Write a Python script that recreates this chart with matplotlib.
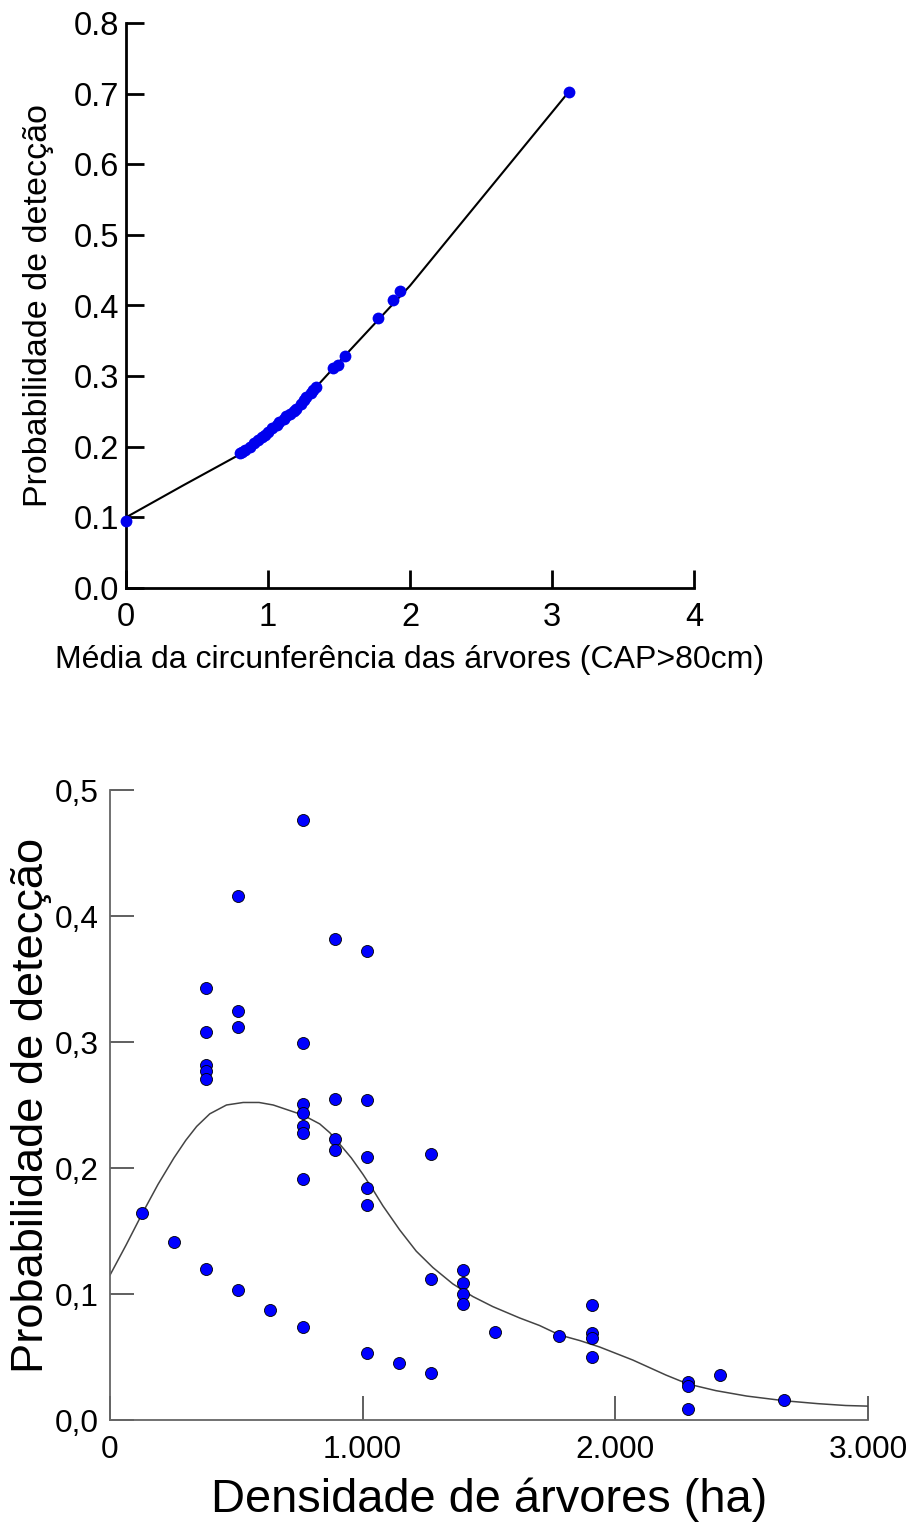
import matplotlib
matplotlib.use("Agg")
import matplotlib.pyplot as plt
from matplotlib.ticker import FuncFormatter

plt.rcParams['font.family'] = ['Liberation Sans', 'DejaVu Sans']

# top panel: mean tree circumference vs detection probability
circ_x = [0.00, 0.80, 0.82, 0.84, 0.87, 0.90, 0.93, 0.955, 0.98, 1.00, 1.03,
          1.06, 1.08, 1.11, 1.13, 1.155, 1.18, 1.20, 1.23, 1.25, 1.27, 1.30,
          1.32, 1.34, 1.46, 1.49, 1.545, 1.777, 1.878, 1.93, 3.12]
circ_y = [0.095, 0.191, 0.193, 0.196, 0.200, 0.205, 0.209, 0.214, 0.217, 0.221, 0.226,
          0.231, 0.235, 0.239, 0.243, 0.247, 0.251, 0.254, 0.260, 0.266, 0.270, 0.276,
          0.280, 0.284, 0.311, 0.316, 0.329, 0.382, 0.408, 0.420, 0.702]
circ_line_x = [0.0, 0.4, 0.8, 1.0, 1.2, 1.35, 1.5, 1.75, 2.0, 3.12]
circ_line_y = [0.100, 0.145, 0.189, 0.218, 0.256, 0.287, 0.320, 0.374, 0.428, 0.703]

# bottom panel: tree density vs detection probability
dens_x = [127, 254,
          381, 381, 381, 381, 381, 381,
          508, 508, 508, 508,
          635,
          762, 762, 762, 762, 762, 762, 762, 762,
          889, 889, 889, 889,
          1016, 1016, 1016, 1016, 1016, 1016,
          1143,
          1270, 1270, 1270,
          1397, 1397, 1397, 1397,
          1524, 1779,
          1906, 1906, 1906, 1906,
          2287, 2287, 2287,
          2413, 2668]
dens_y = [0.164, 0.141,
          0.343, 0.308, 0.282, 0.277, 0.271, 0.120,
          0.416, 0.325, 0.312, 0.103,
          0.087,
          0.476, 0.299, 0.251, 0.244, 0.233, 0.228, 0.191, 0.074,
          0.382, 0.255, 0.223, 0.214,
          0.372, 0.254, 0.209, 0.184, 0.171, 0.053,
          0.045,
          0.211, 0.112, 0.037,
          0.119, 0.109, 0.100, 0.092,
          0.070, 0.067,
          0.091, 0.069, 0.065, 0.050,
          0.030, 0.027, 0.009,
          0.036, 0.016]
dens_line_x = [0, 64, 128, 190, 253, 300, 343, 395, 461, 527, 590, 646, 705, 764,
               830, 870, 909, 955, 1001, 1040, 1080, 1146, 1212, 1278, 1357, 1436,
               1515, 1621, 1700, 1779, 1860, 1937, 2069, 2200, 2287, 2398, 2520,
               2668, 2800, 2912, 3000]
dens_line_y = [0.115, 0.139, 0.164, 0.187, 0.208, 0.222, 0.233, 0.243, 0.250, 0.252,
               0.252, 0.250, 0.246, 0.242, 0.235, 0.228, 0.219, 0.208, 0.195, 0.183,
               0.170, 0.151, 0.134, 0.121, 0.108, 0.098, 0.090, 0.081, 0.075, 0.0675,
               0.063, 0.058, 0.0476, 0.0357, 0.0286, 0.0233, 0.019, 0.0153, 0.013,
               0.0115, 0.011]

fig = plt.figure(figsize=(9.17, 15.24), dpi=100)

# ---- top
ax1 = fig.add_axes([126/917, 1 - 588/1524, 568/917, 565/1524])
ax1.plot(circ_line_x, circ_line_y, color='black', lw=1.5, zorder=2)
ax1.plot(circ_x, circ_y, 'o', color='#0000ee', ms=8.5, mec='none', zorder=3, clip_on=False)
ax1.set_xlim(0, 4)
ax1.set_ylim(0, 0.8)
ax1.set_xticks([0, 1, 2, 3, 4])
ax1.set_yticks([0, 0.1, 0.2, 0.3, 0.4, 0.5, 0.6, 0.7, 0.8])
ax1.yaxis.set_major_formatter(FuncFormatter(lambda v, p: f"{v:.1f}"))
for s in ['top', 'right']:
    ax1.spines[s].set_visible(False)
for s in ['left', 'bottom']:
    ax1.spines[s].set_linewidth(2)
ax1.tick_params(direction='in', length=13, width=2, labelsize=23.5)
ax1.tick_params(axis='x', pad=10)
ax1.tick_params(axis='y', pad=5)
ax1.set_xlabel("Média da circunferência das árvores (CAP>80cm)", fontsize=23, labelpad=9)
ax1.set_ylabel("Probabilidade de detecção", fontsize=24.5, labelpad=14)

# ---- bottom
ax2 = fig.add_axes([110/917, 1 - 1420/1524, 758/917, 630/1524])
ax2.plot(dens_line_x, dens_line_y, color='#444444', lw=1.1, zorder=2)
ax2.scatter(dens_x, dens_y, s=75, color='#0000ff', edgecolors='black',
            linewidths=0.6, zorder=3, clip_on=False)
ax2.set_xlim(0, 3000)
ax2.set_ylim(0, 0.5)
ax2.set_xticks([0, 1000, 2000, 3000])
ax2.set_yticks([0, 0.1, 0.2, 0.3, 0.4, 0.5])
ax2.xaxis.set_major_formatter(FuncFormatter(lambda v, p: "0" if v == 0 else f"{int(v):,}".replace(",", ".")))
ax2.yaxis.set_major_formatter(FuncFormatter(lambda v, p: f"{v:.1f}".replace(".", ",")))
for s in ['top', 'right']:
    ax2.spines[s].set_visible(False)
for s in ['left', 'bottom']:
    ax2.spines[s].set_linewidth(1.3)
    ax2.spines[s].set_color('#666666')
ax2.tick_params(direction='in', length=17, width=1.2, color='#444444', labelsize=22.7)
ax2.tick_params(axis='x', pad=11)
ax2.tick_params(axis='y', pad=8)
ax2.set_xlabel("Densidade de árvores (ha)", fontsize=33.8, labelpad=9)
ax2.set_ylabel("Probabilidade de detecção", fontsize=32.6, labelpad=2)

fig.savefig("out.png", dpi=100)
